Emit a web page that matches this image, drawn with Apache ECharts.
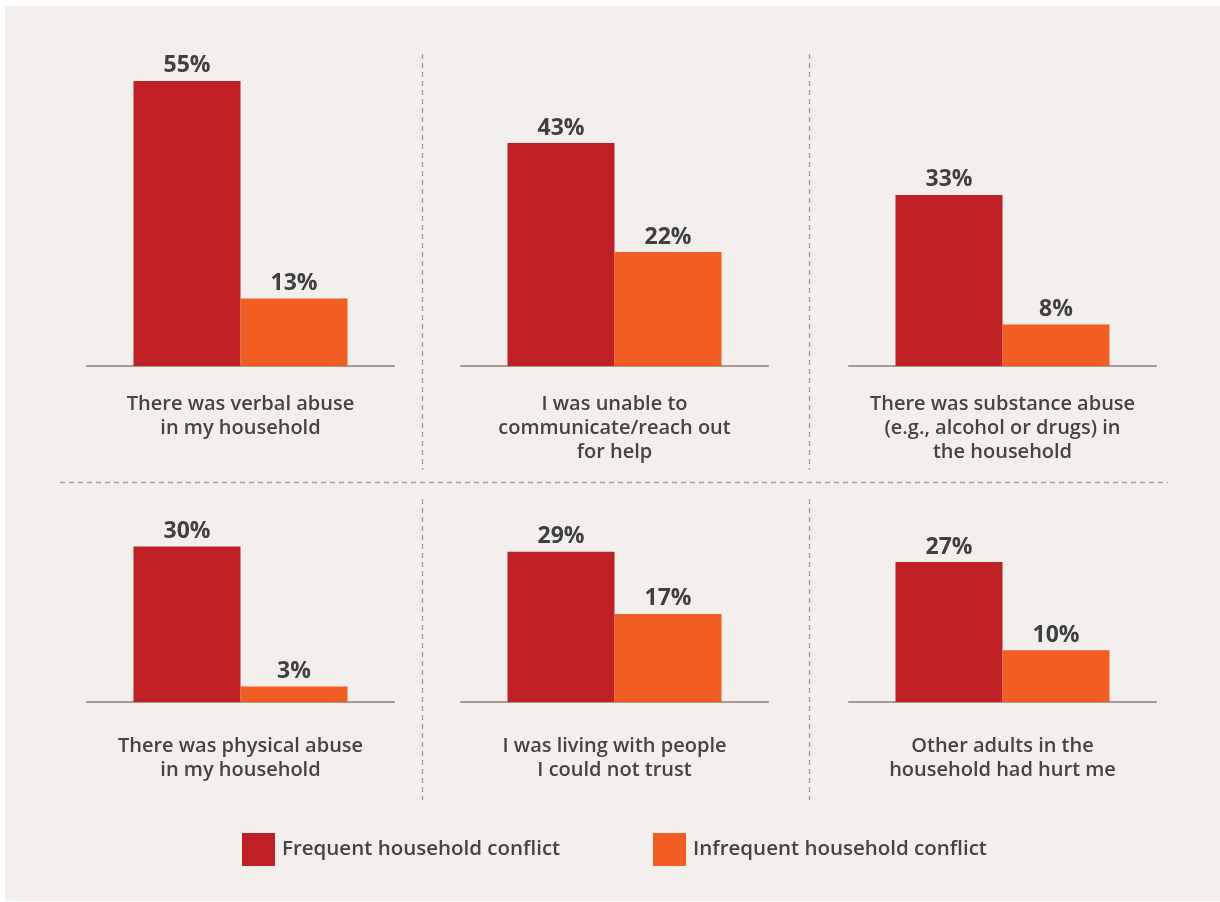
<!DOCTYPE html>
<html>
<head>
<meta charset="utf-8">
<script src="https://cdn.jsdelivr.net/npm/echarts@6/dist/echarts.min.js"></script>
<style>
  html, body { margin: 0; padding: 0; background: #ffffff; }
  #chart { width: 1220px; height: 902px; }
</style>
</head>
<body>
<div id="chart"></div>
<script>
// Survey items, one small panel each
const categories = [
  'There was verbal abuse\nin my household',
  'I was unable to\ncommunicate/reach out\nfor help',
  'There was substance abuse\n(e.g., alcohol or drugs) in\nthe household',
  'There was physical abuse\nin my household',
  'I was living with people\nI could not trust',
  'Other adults in the\nhousehold had hurt me'
];
const seriesNames = ['Frequent household conflict', 'Infrequent household conflict'];
const frequent = [55, 43, 33, 30, 29, 27];
const infrequent = [13, 22, 8, 3, 17, 10];

const RED = '#be2026';
const ORANGE = '#f15d22';
const TEXT = '#444444';
const FONT = '"Open Sans", sans-serif';

const colLefts = [87, 461, 849];
const rowTops = [55, 391];
const rowMargins = [26, 32];
const panelW = 307;
const panelH = 311;

const grids = [], xAxes = [], yAxes = [], series = [];
categories.forEach((cat, i) => {
  const row = Math.floor(i / 3), col = i % 3;
  grids.push({ left: colLefts[col], top: rowTops[row], width: panelW, height: panelH });
  xAxes.push({
    gridIndex: i, type: 'category', data: [cat],
    axisLine: { show: true, lineStyle: { color: '#a89a8c', width: 2 } },
    axisTick: { show: false },
    axisLabel: {
      margin: rowMargins[row], color: TEXT, fontFamily: FONT, fontSize: 20, fontWeight: 600,
      lineHeight: 24, interval: 0
    }
  });
  yAxes.push({ gridIndex: i, type: 'value', min: 0, max: 60, show: false, splitLine: { show: false } });
  [frequent, infrequent].forEach((vals, k) => {
    series.push({
      type: 'bar', name: seriesNames[k], xAxisIndex: i, yAxisIndex: i,
      data: [vals[i]], barWidth: 107, barGap: '0%',
      itemStyle: { color: k === 0 ? RED : ORANGE },
      label: {
        show: true, position: 'top', distance: 4, formatter: '{c}%',
        color: '#404040', fontFamily: FONT, fontWeight: 'bold', fontSize: 23, lineHeight: 22
      },
      silent: true, animation: false
    });
  });
});

// Dashed panel separators
const dash = { stroke: '#a89a8c', lineWidth: 1.3, lineDash: [5, 4] };
const graphic = [
  { type: 'rect', shape: { x: 5, y: 6, width: 1215, height: 895 }, style: { fill: '#f3efec' }, z: -10 },
  { type: 'line', shape: { x1: 60, y1: 482.5, x2: 1168, y2: 482.5 }, style: dash },
  { type: 'line', shape: { x1: 422.5, y1: 54, x2: 422.5, y2: 470 }, style: dash },
  { type: 'line', shape: { x1: 809.5, y1: 54, x2: 809.5, y2: 470 }, style: dash },
  { type: 'line', shape: { x1: 422.5, y1: 499, x2: 422.5, y2: 800 }, style: dash },
  { type: 'line', shape: { x1: 809.5, y1: 499, x2: 809.5, y2: 800 }, style: dash }
];

const legendBase = {
  top: 833, padding: 0, itemWidth: 33, itemHeight: 33, icon: 'rect', selectedMode: false,
  textStyle: { color: TEXT, fontFamily: FONT, fontSize: 20.5, fontWeight: 600, padding: [0, 0, 0, 2] }
};

const chart = echarts.init(document.getElementById('chart'), null, { renderer: 'canvas' });
chart.setOption({
  backgroundColor: '#ffffff',
  animation: false,
  graphic: graphic,
  legend: [
    Object.assign({}, legendBase, { left: 242, data: [seriesNames[0]] }),
    Object.assign({}, legendBase, { left: 653, data: [seriesNames[1]] })
  ],
  grid: grids,
  xAxis: xAxes,
  yAxis: yAxes,
  series: series
});
</script>
</body>
</html>
